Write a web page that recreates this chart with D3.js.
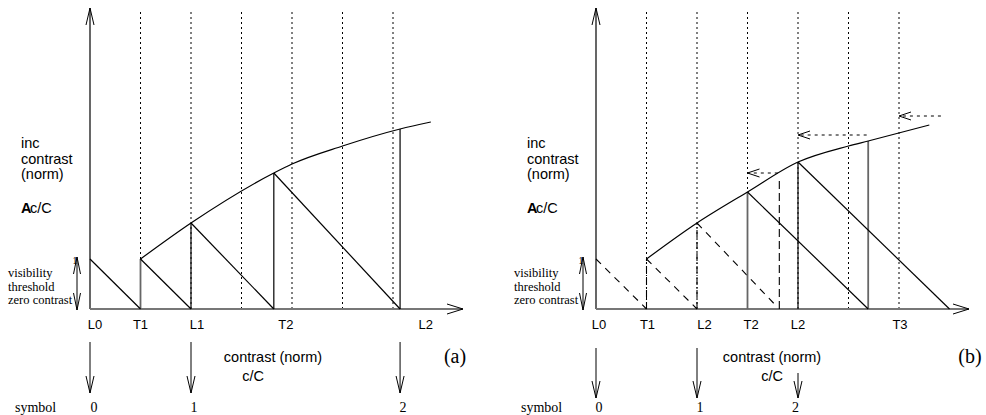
<!DOCTYPE html>
<html lang="en">
	<head>
		<meta charset="utf-8" />
		<title>contrast quantisation</title>
		<style>
			body { margin: 0; background: #fff; }
			svg { display: block; }
			.sans { font-family: "Liberation Sans", Arial, sans-serif; }
			.serif { font-family: "Liberation Serif", "Times New Roman", serif; }
		</style>
	</head>
	<body>
		<div id="chart"></div>

		<script src="https://cdn.jsdelivr.net/npm/d3@7"></script>
		<script>
			// grid lines (in units of the threshold step)
			var gridX = [1, 2, 3, 4, 5, 6];

			// panel (a)
			var curveA = [[1, 1], [2, 1.72], [3.64, 2.72], [4, 2.9], [5, 3.26], [6.14, 3.6], [6.75, 3.74]];
			var dropsA = [[[0, 1], [1, 0]], [[1, 1], [2, 0]], [[2, 1.72], [3.64, 0]], [[3.64, 2.72], [6.14, 0]]];
			var stemsA = [[1, 1, "grey"], [2, 1.72, "black"], [3.64, 2.72, "black"], [6.14, 3.6, "black"]];
			var tickNamesA = ["L0", "T1", "L1", "T2", "L2"];
			var tickPosA = [0.1, 1.0, 2.12, 3.88, 6.65];
			var symbolPosA = [0, 2, 6.14];
			var symbolNamesA = ["0", "1", "2"];

			// panel (b)
			var curveB = [[1, 1], [2, 1.72], [3, 2.34], [4, 2.94], [5, 3.26], [5.39, 3.36], [6.6, 3.68]];
			var dashedB = [[[0, 1], [1, 0]], [[1, 1], [2, 0]], [[2, 1.72], [3.58, 0.05]]];
			var dropsB = [[[3, 2.34], [5.39, 0]], [[4, 2.94], [7.0, 0]]];
			var stemsB = [[3, 2.34, "grey"], [4, 2.94, "black"], [5.39, 3.36, "grey"]];
			var dashDotB = [[1, 1], [2, 1.72]];
			var dashStemB = [[3.63, 2.56]];
			var shiftsB = [[3.6, 3, 2.72], [5.36, 4, 3.48], [6.83, 6, 3.86]];
			var tickNamesB = ["L0", "T1", "L2", "T2", "L2", "T3"];
			var tickPosB = [0.06, 1.02, 2.15, 3.07, 4.0, 6.02];
			var symbolPosB = [0, 2, 4];
			var symbolTopB = [0, 0, 1];
			var symbolNamesB = ["0", "1", "2"];

			var width = 986, height = 415;
			var svg = d3.select("#chart").append("svg")
				.attr("width", width)
				.attr("height", height);

			// open "V" arrow head pointing along (dx,dy)
			function arrowHead(g, x, y, dx, dy, len, half, dash) {
				var px = -dy, py = dx;
				[1, -1].forEach(function(s) {
					g.append("line")
						.attr("x1", x - dx * len + s * px * half)
						.attr("y1", y - dy * len + s * py * half)
						.attr("x2", x).attr("y2", y)
						.attr("stroke", "#000")
						.attr("stroke-width", 1)
						.attr("stroke-dasharray", dash || null);
				});
			}

			function seg(g, p, x, y, stroke, w, dash) {
				g.append("line")
					.attr("x1", x(p[0][0])).attr("y1", y(p[0][1]))
					.attr("x2", x(p[1][0])).attr("y2", y(p[1][1]))
					.attr("stroke", stroke)
					.attr("stroke-width", w)
					.attr("stroke-dasharray", dash || null);
			}

			function panel(ox, opt) {
				var g = svg.append("g");
				var x = d3.scaleLinear().domain([0, 1]).range([ox, ox + 50.5]);
				var y = d3.scaleLinear().domain([0, 1]).range([309, 259]);
				var xEnd = ox + opt.axisLen;

				// dotted grid
				g.selectAll(".grid").data(gridX).enter().append("line")
					.attr("x1", function(d) { return x(d); })
					.attr("x2", function(d) { return x(d); })
					.attr("y1", 12).attr("y2", 309)
					.attr("stroke", "#000")
					.attr("stroke-width", 1)
					.attr("stroke-dasharray", "2,3");

				// axes
				g.append("line").attr("x1", ox).attr("x2", ox).attr("y1", 309).attr("y2", 8)
					.attr("stroke", "#000").attr("stroke-width", 1.2);
				arrowHead(g, ox, 8, 0, -1, 17, 4);
				g.append("line").attr("x1", ox).attr("x2", xEnd).attr("y1", 309).attr("y2", 309)
					.attr("stroke", "#777").attr("stroke-width", 2);
				arrowHead(g, xEnd, 309, 1, 0, 16, 5);

				opt.draw(g, x, y);

				// curve
				g.append("path")
					.datum(opt.curve)
					.attr("d", d3.line()
						.x(function(d) { return x(d[0]); })
						.y(function(d) { return y(d[1]); })
						.curve(d3.curveMonotoneX))
					.attr("fill", "none")
					.attr("stroke", "#000")
					.attr("stroke-width", 1.2);

				// tick names
				g.selectAll(".tk").data(opt.tickNames).enter().append("text")
					.attr("class", "sans")
					.attr("x", function(d, i) { return x(opt.tickPos[i]); })
					.attr("y", 329)
					.attr("text-anchor", "middle")
					.attr("font-size", 13)
					.text(function(d) { return d; });

				// y label
				var yl = g.append("text").attr("class", "sans").attr("font-size", 14.5);
				["inc", "contrast", "(norm)"].forEach(function(t, i) {
					yl.append("tspan").attr("x", ox - 69).attr("y", 148 + i * 15.5).text(t);
				});
				var dl = g.append("text").attr("class", "sans").attr("font-size", 14.5)
					.attr("x", ox - 69).attr("y", 213);
				dl.append("tspan").attr("font-weight", "bold").attr("letter-spacing", -1.5).text("A");
				dl.append("tspan").text("c/C");

				// visibility threshold bracket
				var bx = ox + opt.bracketDx;
				g.append("line").attr("x1", bx).attr("x2", bx).attr("y1", 257).attr("y2", 310)
					.attr("stroke", "#000").attr("stroke-width", 1);
				arrowHead(g, bx, 257, 0, -1, 17, 3.5);
				arrowHead(g, bx, 310, 0, 1, 17, 3.5);
				g.append("text").attr("class", "serif").attr("font-size", 11)
					.attr("x", bx - 2).attr("y", 264).attr("text-anchor", "middle").text("1");
				var vt = g.append("text").attr("class", "serif").attr("font-size", 12.5);
				["visibility", "threshold", "zero contrast"].forEach(function(t, i) {
					vt.append("tspan").attr("x", ox - 82 + opt.textDx).attr("y", 277 + i * 13.5).text(t);
				});

				// x label
				g.append("text").attr("class", "sans").attr("font-size", 14.5)
					.attr("x", ox + opt.xLabelDx).attr("y", 362).attr("text-anchor", "middle")
					.text("contrast (norm)");
				g.append("text").attr("class", "sans").attr("font-size", 14.5)
					.attr("x", ox + opt.xLabelDx - 20 + opt.cDx).attr("y", 381).attr("text-anchor", "middle")
					.text("c/C");
				g.append("text").attr("class", "serif").attr("font-size", 20)
					.attr("x", ox + opt.tagDx).attr("y", 363).attr("text-anchor", "middle")
					.text(opt.tag);

				// symbol arrows
				opt.symbolPos.forEach(function(p, i) {
					var top = opt.symbolTop[i] ? opt.shortTop : opt.arrowTop;
					g.append("line").attr("x1", x(p)).attr("x2", x(p))
						.attr("y1", top).attr("y2", opt.arrowBot)
						.attr("stroke", "#000").attr("stroke-width", 1);
					arrowHead(g, x(p), opt.arrowBot, 0, 1, 17, 4);
					g.append("text").attr("class", "serif").attr("font-size", 14)
						.attr("x", x(opt.symbolLabelPos[i])).attr("y", 412)
						.attr("text-anchor", "middle")
						.text(opt.symbolNames[i]);
				});
				g.append("text").attr("class", "serif").attr("font-size", 14)
					.attr("x", ox - 75 + opt.textDx).attr("y", 412).text("symbol");
			}

			panel(90, {
				axisLen: 373, bracketDx: -13, textDx: 0, xLabelDx: 183, cDx: 0, tagDx: 365, tag: "(a)",
				curve: curveA, tickNames: tickNamesA, tickPos: tickPosA,
				symbolPos: symbolPosA, symbolTop: [0, 0, 0], symbolNames: symbolNamesA,
				symbolLabelPos: [0.08, 2.06, 6.2],
				arrowTop: 342, shortTop: 342, arrowBot: 393,
				draw: function(g, x, y) {
					stemsA.forEach(function(s) {
						seg(g, [[s[0], 0], [s[0], s[1]]], x, y, s[2] == "grey" ? "#666" : "#000", s[2] == "grey" ? 1.8 : 1.2);
					});
					dropsA.forEach(function(p) { seg(g, p, x, y, "#000", 1.2); });
				}
			});

			panel(596, {
				axisLen: 373, bracketDx: -13, textDx: 0, xLabelDx: 176, cDx: 20, tagDx: 374, tag: "(b)",
				curve: curveB, tickNames: tickNamesB, tickPos: tickPosB,
				symbolPos: symbolPosB, symbolTop: symbolTopB, symbolNames: symbolNamesB,
				symbolLabelPos: [0.06, 2.06, 3.95],
				arrowTop: 348, shortTop: 373, arrowBot: 398,
				draw: function(g, x, y) {
					dashedB.forEach(function(p) { seg(g, p, x, y, "#000", 1.1, "7,6"); });
					dashDotB.forEach(function(s) { seg(g, [[s[0], 0], [s[0], s[1]]], x, y, "#000", 1.1, "7,2,1,2"); });
					dashStemB.forEach(function(s) { seg(g, [[s[0], 0], [s[0], s[1]]], x, y, "#000", 1.1, "8,4"); });
					stemsB.forEach(function(s) {
						seg(g, [[s[0], 0], [s[0], s[1]]], x, y, s[2] == "grey" ? "#666" : "#000", s[2] == "grey" ? 1.8 : 1.2);
					});
					dropsB.forEach(function(p) { seg(g, p, x, y, "#000", 1.2); });
					shiftsB.forEach(function(s) {
						seg(g, [[s[0], s[2]], [s[1], s[2]]], x, y, "#000", 1, "3,4");
						arrowHead(g, x(s[1]), y(s[2]), -1, 0, 12, 4);
					});
				}
			});
		</script>
	</body>
</html>
